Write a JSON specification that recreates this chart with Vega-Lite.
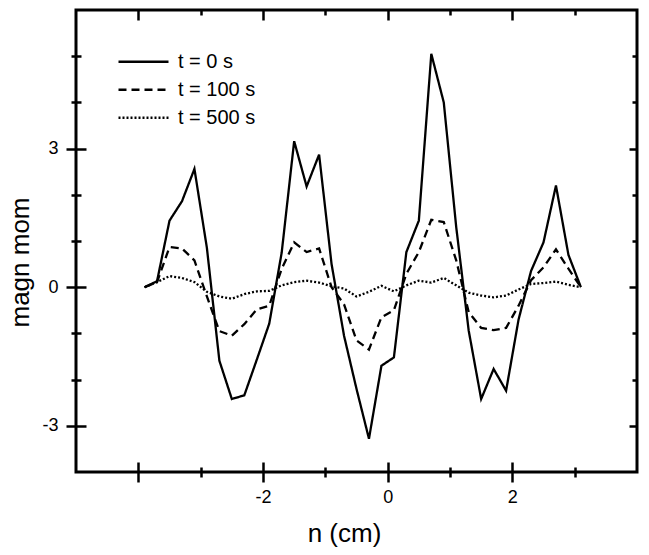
{
  "$schema": "https://vega.github.io/schema/vega-lite/v6.json",
  "width": 561,
  "height": 462,
  "autosize": {"type": "none"},
  "padding": {"left": 76, "top": 10, "right": 12, "bottom": 83},
  "config": {
    "font": "Liberation Sans",
    "view": {"stroke": "black", "strokeWidth": 3},
    "axis": {"domain": false, "grid": false, "tickColor": "black", "tickWidth": 2.5, "labelColor": "black", "titleColor": "black", "labelFontSize": 18, "titleFontSize": 26, "titleFontWeight": "normal", "labelFont": "Liberation Sans", "titleFont": "Liberation Sans"}
  },
  "data": {"values": [
    {"x": -3.9, "y": 0, "series": "t = 0 s"},
    {"x": -3.7, "y": 0.13, "series": "t = 0 s"},
    {"x": -3.5, "y": 1.44, "series": "t = 0 s"},
    {"x": -3.3, "y": 1.86, "series": "t = 0 s"},
    {"x": -3.1, "y": 2.56, "series": "t = 0 s"},
    {"x": -2.9, "y": 0.85, "series": "t = 0 s"},
    {"x": -2.7, "y": -1.59, "series": "t = 0 s"},
    {"x": -2.5, "y": -2.42, "series": "t = 0 s"},
    {"x": -2.3, "y": -2.34, "series": "t = 0 s"},
    {"x": -2.1, "y": -1.57, "series": "t = 0 s"},
    {"x": -1.9, "y": -0.79, "series": "t = 0 s"},
    {"x": -1.7, "y": 0.75, "series": "t = 0 s"},
    {"x": -1.5, "y": 3.16, "series": "t = 0 s"},
    {"x": -1.3, "y": 2.18, "series": "t = 0 s"},
    {"x": -1.1, "y": 2.87, "series": "t = 0 s"},
    {"x": -0.9, "y": 0.5, "series": "t = 0 s"},
    {"x": -0.7, "y": -1.05, "series": "t = 0 s"},
    {"x": -0.5, "y": -2.2, "series": "t = 0 s"},
    {"x": -0.3, "y": -3.28, "series": "t = 0 s"},
    {"x": -0.1, "y": -1.7, "series": "t = 0 s"},
    {"x": 0.1, "y": -1.52, "series": "t = 0 s"},
    {"x": 0.3, "y": 0.76, "series": "t = 0 s"},
    {"x": 0.5, "y": 1.44, "series": "t = 0 s"},
    {"x": 0.7, "y": 5.05, "series": "t = 0 s"},
    {"x": 0.9, "y": 4.0, "series": "t = 0 s"},
    {"x": 1.1, "y": 1.3, "series": "t = 0 s"},
    {"x": 1.3, "y": -0.94, "series": "t = 0 s"},
    {"x": 1.5, "y": -2.42, "series": "t = 0 s"},
    {"x": 1.7, "y": -1.77, "series": "t = 0 s"},
    {"x": 1.9, "y": -2.24, "series": "t = 0 s"},
    {"x": 2.1, "y": -0.7, "series": "t = 0 s"},
    {"x": 2.3, "y": 0.35, "series": "t = 0 s"},
    {"x": 2.5, "y": 0.97, "series": "t = 0 s"},
    {"x": 2.7, "y": 2.2, "series": "t = 0 s"},
    {"x": 2.9, "y": 0.7, "series": "t = 0 s"},
    {"x": 3.1, "y": 0, "series": "t = 0 s"},
    {"x": -3.9, "y": 0, "series": "t = 100 s"},
    {"x": -3.7, "y": 0.11, "series": "t = 100 s"},
    {"x": -3.5, "y": 0.87, "series": "t = 100 s"},
    {"x": -3.3, "y": 0.84, "series": "t = 100 s"},
    {"x": -3.1, "y": 0.58, "series": "t = 100 s"},
    {"x": -2.9, "y": -0.2, "series": "t = 100 s"},
    {"x": -2.7, "y": -0.95, "series": "t = 100 s"},
    {"x": -2.5, "y": -1.05, "series": "t = 100 s"},
    {"x": -2.3, "y": -0.8, "series": "t = 100 s"},
    {"x": -2.1, "y": -0.48, "series": "t = 100 s"},
    {"x": -1.9, "y": -0.4, "series": "t = 100 s"},
    {"x": -1.7, "y": 0.4, "series": "t = 100 s"},
    {"x": -1.5, "y": 0.97, "series": "t = 100 s"},
    {"x": -1.3, "y": 0.76, "series": "t = 100 s"},
    {"x": -1.1, "y": 0.84, "series": "t = 100 s"},
    {"x": -0.9, "y": 0.0, "series": "t = 100 s"},
    {"x": -0.7, "y": -0.37, "series": "t = 100 s"},
    {"x": -0.5, "y": -1.15, "series": "t = 100 s"},
    {"x": -0.3, "y": -1.35, "series": "t = 100 s"},
    {"x": -0.1, "y": -0.65, "series": "t = 100 s"},
    {"x": 0.1, "y": -0.5, "series": "t = 100 s"},
    {"x": 0.3, "y": 0.29, "series": "t = 100 s"},
    {"x": 0.5, "y": 0.76, "series": "t = 100 s"},
    {"x": 0.7, "y": 1.46, "series": "t = 100 s"},
    {"x": 0.9, "y": 1.41, "series": "t = 100 s"},
    {"x": 1.1, "y": 0.58, "series": "t = 100 s"},
    {"x": 1.3, "y": -0.54, "series": "t = 100 s"},
    {"x": 1.5, "y": -0.88, "series": "t = 100 s"},
    {"x": 1.7, "y": -0.93, "series": "t = 100 s"},
    {"x": 1.9, "y": -0.88, "series": "t = 100 s"},
    {"x": 2.1, "y": -0.4, "series": "t = 100 s"},
    {"x": 2.3, "y": 0.15, "series": "t = 100 s"},
    {"x": 2.5, "y": 0.43, "series": "t = 100 s"},
    {"x": 2.7, "y": 0.82, "series": "t = 100 s"},
    {"x": 2.9, "y": 0.4, "series": "t = 100 s"},
    {"x": 3.1, "y": 0, "series": "t = 100 s"},
    {"x": -3.9, "y": 0, "series": "t = 500 s"},
    {"x": -3.7, "y": 0.11, "series": "t = 500 s"},
    {"x": -3.5, "y": 0.24, "series": "t = 500 s"},
    {"x": -3.3, "y": 0.2, "series": "t = 500 s"},
    {"x": -3.1, "y": 0.11, "series": "t = 500 s"},
    {"x": -2.9, "y": -0.1, "series": "t = 500 s"},
    {"x": -2.7, "y": -0.2, "series": "t = 500 s"},
    {"x": -2.5, "y": -0.25, "series": "t = 500 s"},
    {"x": -2.3, "y": -0.15, "series": "t = 500 s"},
    {"x": -2.1, "y": -0.09, "series": "t = 500 s"},
    {"x": -1.9, "y": -0.08, "series": "t = 500 s"},
    {"x": -1.7, "y": 0.04, "series": "t = 500 s"},
    {"x": -1.5, "y": 0.11, "series": "t = 500 s"},
    {"x": -1.3, "y": 0.14, "series": "t = 500 s"},
    {"x": -1.1, "y": 0.1, "series": "t = 500 s"},
    {"x": -0.9, "y": 0.02, "series": "t = 500 s"},
    {"x": -0.7, "y": -0.03, "series": "t = 500 s"},
    {"x": -0.5, "y": -0.2, "series": "t = 500 s"},
    {"x": -0.3, "y": -0.1, "series": "t = 500 s"},
    {"x": -0.1, "y": 0.03, "series": "t = 500 s"},
    {"x": 0.1, "y": -0.09, "series": "t = 500 s"},
    {"x": 0.3, "y": 0.04, "series": "t = 500 s"},
    {"x": 0.5, "y": 0.14, "series": "t = 500 s"},
    {"x": 0.7, "y": 0.1, "series": "t = 500 s"},
    {"x": 0.9, "y": 0.2, "series": "t = 500 s"},
    {"x": 1.1, "y": 0.04, "series": "t = 500 s"},
    {"x": 1.3, "y": -0.12, "series": "t = 500 s"},
    {"x": 1.5, "y": -0.18, "series": "t = 500 s"},
    {"x": 1.7, "y": -0.22, "series": "t = 500 s"},
    {"x": 1.9, "y": -0.18, "series": "t = 500 s"},
    {"x": 2.1, "y": -0.05, "series": "t = 500 s"},
    {"x": 2.3, "y": 0.07, "series": "t = 500 s"},
    {"x": 2.5, "y": 0.09, "series": "t = 500 s"},
    {"x": 2.7, "y": 0.12, "series": "t = 500 s"},
    {"x": 2.9, "y": 0.05, "series": "t = 500 s"},
    {"x": 3.1, "y": 0, "series": "t = 500 s"}
  ]},
  "resolve": {"axis": {"x": "independent", "y": "independent"}},
  "layer": [
    {
      "mark": {"type": "line", "stroke": "black", "strokeWidth": 2.3},
      "encoding": {
        "x": {"field": "x", "type": "quantitative", "scale": {"domain": [-5, 4], "nice": false, "zero": false},
          "axis": {"orient": "bottom", "values": [-4, -2, 0, 2], "tickSize": 10, "labelPadding": 6, "labelExpr": "datum.value == -4 ? '' : '' + datum.value", "title": "n (cm)", "titleX": 268, "titleY": 61, "titleAlign": "center", "titleBaseline": "middle"}},
        "y": {"field": "y", "type": "quantitative", "scale": {"domain": [-4, 6], "nice": false, "zero": false},
          "axis": {"orient": "left", "values": [-3, 0, 3], "tickSize": 10, "labelPadding": 8, "labelExpr": "'' + datum.value", "title": "magn mom", "titleX": -56, "titleY": 252, "titleAngle": -90, "titleAlign": "center", "titleBaseline": "middle"}},
        "strokeDash": {"field": "series", "type": "nominal",
          "scale": {"domain": ["t = 0 s", "t = 100 s", "t = 500 s"], "range": [[1, 0], [8, 5], [2, 2]]},
          "legend": {"orient": "none", "legendX": 41, "legendY": 38, "title": null, "padding": 0, "symbolType": "stroke", "symbolSize": 2500, "symbolStrokeWidth": 2.3, "symbolStrokeColor": "black", "symbolDash": null, "labelFontSize": 20, "labelFont": "Liberation Sans", "labelColor": "black", "labelOffset": 8, "clipHeight": 27.5, "rowPadding": 0}}
      }
    },
    {
      "mark": {"type": "point", "opacity": 0},
      "encoding": {
        "x": {"field": "x", "type": "quantitative", "axis": {"orient": "bottom", "values": [-3, -1, 1, 3], "tickSize": 5, "labels": false, "title": null}},
        "y": {"field": "y", "type": "quantitative", "axis": {"orient": "left", "values": [-2, -1, 1, 2, 4, 5], "tickSize": 5, "labels": false, "title": null}}
      }
    },
    {
      "mark": {"type": "point", "opacity": 0},
      "encoding": {
        "x": {"field": "x", "type": "quantitative", "axis": {"orient": "bottom", "values": [-4, -2, 0, 2], "tickSize": -10, "labels": false, "title": null}},
        "y": {"field": "y", "type": "quantitative", "axis": {"orient": "left", "values": [-3, 0, 3], "tickSize": -10, "labels": false, "title": null}}
      }
    },
    {
      "mark": {"type": "point", "opacity": 0},
      "encoding": {
        "x": {"field": "x", "type": "quantitative", "axis": {"orient": "bottom", "values": [-3, -1, 1, 3], "tickSize": -5, "labels": false, "title": null}},
        "y": {"field": "y", "type": "quantitative", "axis": {"orient": "left", "values": [-2, -1, 1, 2, 4, 5], "tickSize": -5, "labels": false, "title": null}}
      }
    },
    {
      "mark": {"type": "point", "opacity": 0},
      "encoding": {
        "x": {"field": "x", "type": "quantitative", "axis": {"orient": "top", "values": [-4, -2, 0, 2], "tickSize": -10, "labels": false, "title": null}},
        "y": {"field": "y", "type": "quantitative", "axis": {"orient": "right", "values": [-3, 0, 3], "tickSize": -8, "labels": false, "title": null}}
      }
    },
    {
      "mark": {"type": "point", "opacity": 0},
      "encoding": {
        "x": {"field": "x", "type": "quantitative", "axis": {"orient": "top", "values": [-3, -1, 1, 3], "tickSize": -5, "labels": false, "title": null}},
        "y": {"field": "y", "type": "quantitative", "axis": {"orient": "right", "values": [-2, -1, 1, 2, 4, 5], "tickSize": -5, "labels": false, "title": null}}
      }
    }
  ]
}
